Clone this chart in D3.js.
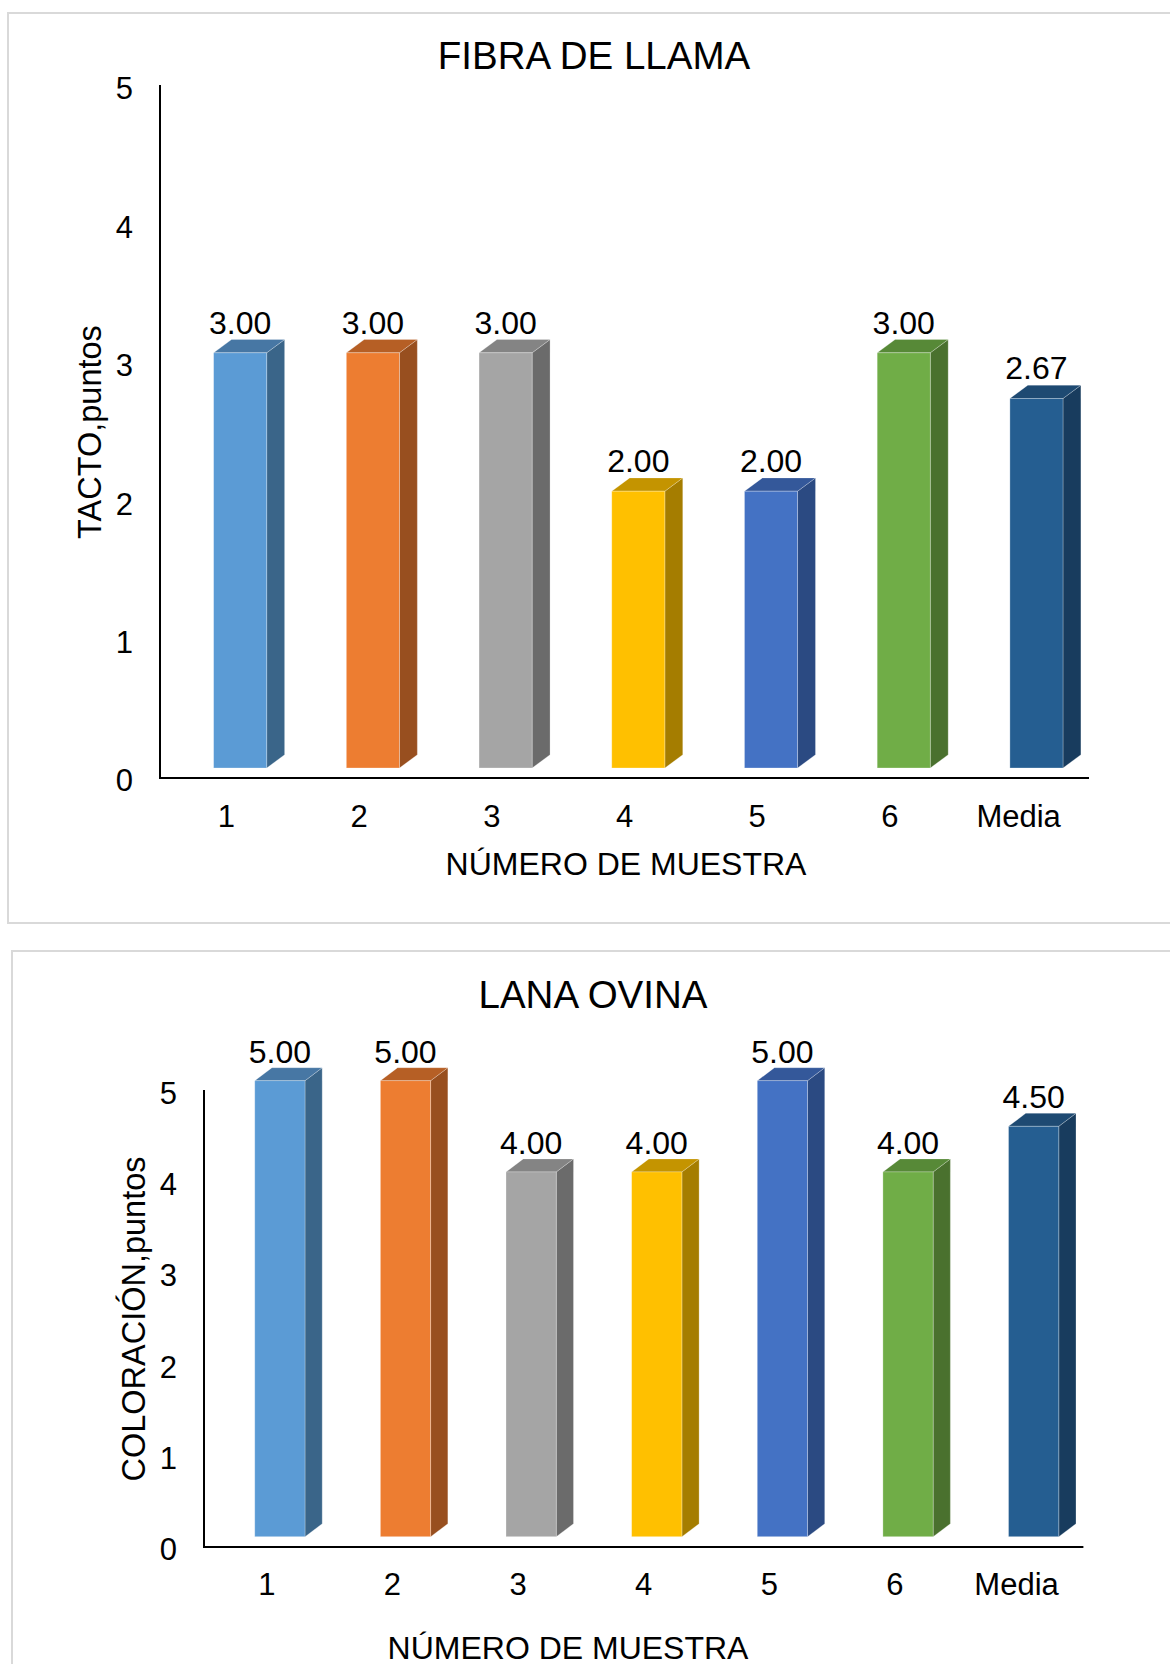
<!DOCTYPE html>
<html>
<head>
<meta charset="utf-8">
<script src="https://cdn.jsdelivr.net/npm/d3@7"></script>
<style>
  html, body { margin: 0; padding: 0; background: #fff; }
  svg { display: block; }
  text { font-family: "Liberation Sans", Arial, sans-serif; fill: #000; }
</style>
</head>
<body>
<svg id="chart" width="1170" height="1664"></svg>
<script>
// Sample categories and scores
const categories = ["1", "2", "3", "4", "5", "6", "Media"];
const tactoValues = [3.00, 3.00, 3.00, 2.00, 2.00, 3.00, 2.67];
const coloracionValues = [5.00, 5.00, 4.00, 4.00, 5.00, 4.00, 4.50];
const yTicks = [0, 1, 2, 3, 4, 5];

// Face colours for each column: front, top, side
const frontColors = ["#5B9BD5", "#ED7D31", "#A5A5A5", "#FFC000", "#4472C4", "#70AD47", "#255E91"];
const topColors   = ["#4777A4", "#B65F25", "#848484", "#C49400", "#34589A", "#578937", "#1E4A72"];
const sideColors  = ["#3A6589", "#984F1F", "#6B6B6B", "#A57D00", "#2B4A82", "#4A712E", "#183C5E"];

const svg = d3.select("#chart");
const fmt = d3.format(".2f");

function drawChart(cfg) {
  const g = svg.append("g");

  // chart frame
  g.append("rect")
    .attr("x", cfg.frame[0]).attr("y", cfg.frame[1])
    .attr("width", cfg.frame[2]).attr("height", cfg.frame[3])
    .attr("fill", "#fff").attr("stroke", "#D9D9D9").attr("stroke-width", 2);

  const x = d3.scaleBand().domain(categories).range([cfg.left, cfg.right]).padding(0);
  const bw = x.bandwidth();
  const yBar = d3.scaleLinear().domain([0, 5]).range([cfg.bar0, cfg.bar5]);
  const yAxisScale = d3.scaleLinear().domain([0, 5]).range([cfg.tick0, cfg.tick5]);

  const dx = bw * cfg.depthX, dy = cfg.depthY;
  const faceW = bw * 0.40;
  const faceX = c => x(c) + bw * 0.404;

  const data = categories.map((c, i) => ({ c, v: cfg.values[i], i }));

  const bars = g.append("g").selectAll("g").data(data).join("g");

  // side face
  bars.append("path")
    .attr("d", d => {
      const x1 = faceX(d.c) + faceW, yt = yBar(d.v), yb = yBar(0);
      return `M${x1},${yt}L${x1 + dx},${yt - dy}L${x1 + dx},${yb - dy}L${x1},${yb}Z`;
    })
    .attr("fill", d => sideColors[d.i])
    .attr("stroke", "rgba(255,255,255,0.3)").attr("stroke-width", 0.8);

  // top face
  bars.append("path")
    .attr("d", d => {
      const x0 = faceX(d.c), x1 = x0 + faceW, yt = yBar(d.v);
      return `M${x0},${yt}L${x0 + dx},${yt - dy}L${x1 + dx},${yt - dy}L${x1},${yt}Z`;
    })
    .attr("fill", d => topColors[d.i])
    .attr("stroke", "rgba(255,255,255,0.3)").attr("stroke-width", 0.8);

  // front face
  bars.append("rect")
    .attr("x", d => faceX(d.c))
    .attr("y", d => yBar(d.v))
    .attr("width", faceW)
    .attr("height", d => yBar(0) - yBar(d.v))
    .attr("fill", d => frontColors[d.i])
    .attr("stroke", "rgba(255,255,255,0.35)").attr("stroke-width", 0.8);

  // value labels
  bars.append("text")
    .attr("x", d => faceX(d.c) + faceW / 2)
    .attr("y", d => yBar(d.v) - dy - cfg.labelGap)
    .attr("text-anchor", "middle")
    .style("font-size", "32px")
    .text(d => fmt(d.v));

  // y axis
  const yAxis = d3.axisLeft(yAxisScale).tickValues(yTicks).tickSize(0).tickPadding(0)
    .tickFormat(d3.format("d"));
  const yg = g.append("g").attr("transform", `translate(${cfg.left - 27},0)`).call(yAxis);
  yg.select(".domain").remove();
  yg.selectAll("text").style("font-size", "31px").style("font-family", null).attr("x", 0).attr("dy", "0.35em");

  // x axis
  const xAxis = d3.axisBottom(x).tickSize(0).tickPadding(0);
  const xg = g.append("g").attr("transform", `translate(0,${cfg.axisY})`).call(xAxis);
  xg.select(".domain").remove();
  xg.selectAll("text").style("font-size", "31px").style("font-family", null)
    .attr("x", d => d === "Media" ? -4 : 0)
    .attr("y", cfg.catBaseline - cfg.axisY).attr("dy", 0);

  // axis lines
  g.append("line")
    .attr("x1", cfg.left).attr("x2", cfg.left)
    .attr("y1", cfg.axisTop).attr("y2", cfg.axisY)
    .attr("stroke", "#000").attr("stroke-width", 2);
  g.append("line")
    .attr("x1", cfg.left - 1).attr("x2", cfg.right)
    .attr("y1", cfg.axisY).attr("y2", cfg.axisY)
    .attr("stroke", "#000").attr("stroke-width", 2.2);

  // titles
  g.append("text")
    .attr("x", cfg.titleX).attr("y", cfg.titleY)
    .attr("text-anchor", "middle")
    .style("font-size", "38.5px")
    .text(cfg.title);

  g.append("text")
    .attr("x", cfg.xTitleX).attr("y", cfg.xTitleY)
    .attr("text-anchor", "middle")
    .style("font-size", "32px")
    .text("NÚMERO DE MUESTRA");

  g.append("text")
    .attr("transform", `translate(${cfg.yTitleX},${cfg.yTitleY}) rotate(-90)`)
    .attr("text-anchor", "middle")
    .style("font-size", "32.5px")
    .text(cfg.yTitle);
}

drawChart({
  frame: [8, 13, 1180, 910],
  title: "FIBRA DE LLAMA",
  yTitle: "TACTO,puntos",
  values: tactoValues,
  left: 160, right: 1089,
  bar0: 768, bar5: 76,
  tick0: 780, tick5: 88,
  axisTop: 85, axisY: 778,
  depthX: 0.135, depthY: 13.3,
  labelGap: 6,
  catBaseline: 827,
  titleX: 594, titleY: 69,
  xTitleX: 626, xTitleY: 875,
  yTitleX: 101, yTitleY: 432
});

drawChart({
  frame: [12, 951, 1180, 760],
  title: "LANA OVINA",
  yTitle: "COLORACIÓN,puntos",
  values: coloracionValues,
  left: 204, right: 1083.4,
  bar0: 1536.7, bar5: 1080.7,
  tick0: 1548.3, tick5: 1093,
  axisTop: 1090, axisY: 1547,
  depthX: 0.137, depthY: 13,
  labelGap: 5,
  catBaseline: 1595,
  titleX: 593, titleY: 1008,
  xTitleX: 568, xTitleY: 1659,
  yTitleX: 145, yTitleY: 1319
});
</script>
</body>
</html>
